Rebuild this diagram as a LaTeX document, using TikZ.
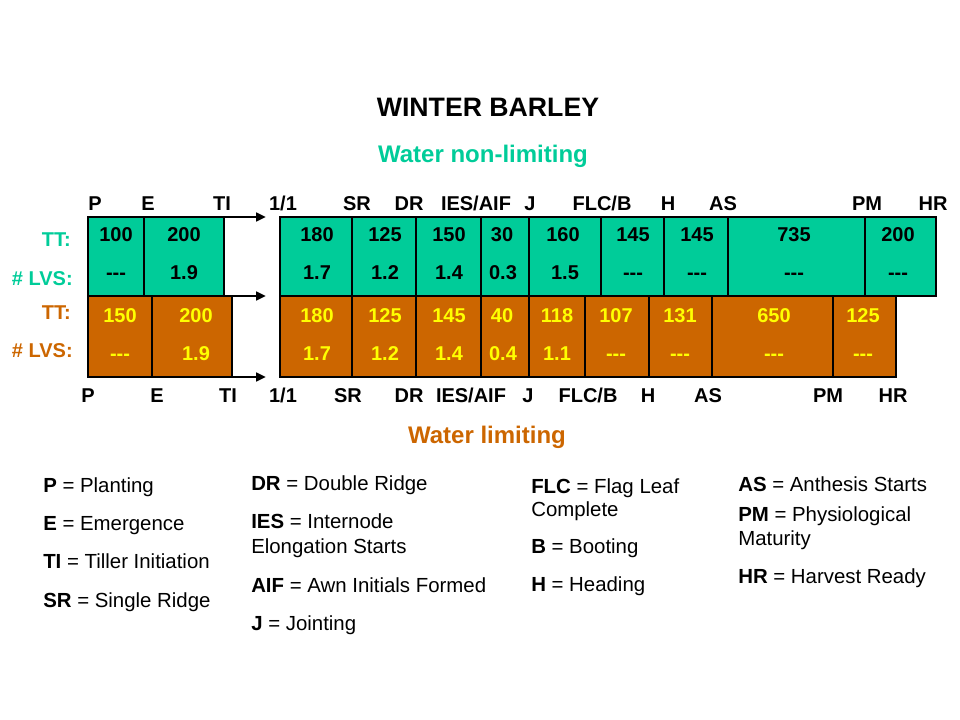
\documentclass[tikz,border=0pt]{standalone}
\usepackage{fontspec}
\setmainfont{Liberation Sans}
\usetikzlibrary{arrows.meta}
\definecolor{gfill}{RGB}{0,204,153}
\definecolor{ofill}{RGB}{204,102,0}
\definecolor{ytext}{RGB}{255,255,0}
\newcommand{\tridash}{-{}-{}-}
\begin{document}
\begin{tikzpicture}[x=0.75pt,y=-0.75pt,
  txt/.style={inner sep=0pt, anchor=base},
  num/.style={txt, font=\fontsize{15}{18}\selectfont\bfseries},
  gnum/.style={num, text=black},
  onum/.style={num, text=ytext},
  stage/.style={txt, font=\fontsize{15}{18}\selectfont\bfseries},
  rowlab/.style={txt, anchor=base east, font=\fontsize{15}{18}\selectfont\bfseries},
  leg/.style={txt, anchor=base west, font=\fontsize{15.3}{18}\selectfont},
  outer/.style={line width=1.9pt},
  divider/.style={line width=0.8pt},
  arr/.style={line width=2pt, -{Triangle[length=7.5pt,width=6.5pt]}}
]
\useasboundingbox (0,0) rectangle (960,720);

% titles
\node[txt, font=\fontsize{20}{24}\selectfont\bfseries] (title) at (488,117) {WINTER BARLEY};
\node[txt, font=\fontsize{18}{22}\selectfont\bfseries, text=gfill] (wnl) at (483,163) {Water non-limiting};
\node[txt, font=\fontsize{18}{22}\selectfont\bfseries, text=ofill] (wl) at (487,443) {Water limiting};

% block corner coordinates
\coordinate (gAnw) at (88,217);  \coordinate (gAse) at (224,296);
\coordinate (gBnw) at (280,217); \coordinate (gBse) at (936,296);
\coordinate (oAnw) at (88,296);  \coordinate (oAse) at (232,377);
\coordinate (oBnw) at (280,296); \coordinate (oBse) at (896,377);
\coordinate (gAne) at (224,217);
\coordinate (oAne) at (224,296);
\coordinate (oAsw) at (232,377);
\coordinate (t1) at (266,217);
\coordinate (t2) at (266,296);
\coordinate (t3) at (266,377);

% fills
\fill[gfill] (gAnw) rectangle (gAse);
\fill[gfill] (gBnw) rectangle (gBse);
\fill[ofill] (oAnw) rectangle (oAse);
\fill[ofill] (oBnw) rectangle (oBse);

% dividers
\foreach \x in {144} \draw[divider] (\x,217) -- (\x,296);
\foreach \x in {352,416,481,529,601,664,728,865} \draw[divider] (\x,217) -- (\x,296);
\foreach \x in {152} \draw[divider] (\x,296) -- (\x,377);
\foreach \x in {352,416,481,529,585,649,712,833} \draw[divider] (\x,296) -- (\x,377);
\draw[line width=1pt] (224,217) -- (224,296);
\draw[line width=1pt] (232,296) -- (232,377);

% outlines
\draw[outer] (88,296) -- (88,217) -- (224,217);
\draw[outer] (gBnw) rectangle (gBse);
\draw[outer] (88,296) -- (88,377) -- (232,377);
\draw[outer] (88,296) -- (232,296);
\draw[outer] (oBnw) rectangle (oBse);

% arrows
\draw[arr] (gAne) -- (t1);
\draw[arr] (oAne) -- (t2);
\draw[arr] (oAsw) -- (t3);

% row labels
\node[rowlab, text=gfill] (gtt) at (71,247) {TT:};
\node[rowlab, text=gfill] (glv) at (73,286) {\# LVS:};
\node[rowlab, text=ofill] (ott) at (71,320) {TT:};
\node[rowlab, text=ofill] (olv) at (73,357) {\# LVS:};

% green values
\node[gnum] (g1t) at (116,242) {100};   \node[gnum] (g1l) at (116,280) {\tridash};
\node[gnum] (g2t) at (184,242) {200};   \node[gnum] (g2l) at (184,280) {1.9};
\node[gnum] (g3t) at (317,242) {180};   \node[gnum] (g3l) at (317,280) {1.7};
\node[gnum] (g4t) at (385,242) {125};   \node[gnum] (g4l) at (385,280) {1.2};
\node[gnum] (g5t) at (449,242) {150};   \node[gnum] (g5l) at (449,280) {1.4};
\node[gnum] (g6t) at (502,242) {30};    \node[gnum] (g6l) at (503,280) {0.3};
\node[gnum] (g7t) at (563,242) {160};   \node[gnum] (g7l) at (565,280) {1.5};
\node[gnum] (g8t) at (633,242) {145};   \node[gnum] (g8l) at (633,280) {\tridash};
\node[gnum] (g9t) at (697,242) {145};   \node[gnum] (g9l) at (697,280) {\tridash};
\node[gnum] (g10t) at (794,242) {735};  \node[gnum] (g10l) at (794,280) {\tridash};
\node[gnum] (g11t) at (898,242) {200};  \node[gnum] (g11l) at (898,280) {\tridash};

% orange values
\node[onum] (o1t) at (120,322) {150};   \node[onum] (o1l) at (120,360) {\tridash};
\node[onum] (o2t) at (196,322) {200};   \node[onum] (o2l) at (196,360) {1.9};
\node[onum] (o3t) at (317,322) {180};   \node[onum] (o3l) at (317,360) {1.7};
\node[onum] (o4t) at (385,322) {125};   \node[onum] (o4l) at (385,360) {1.2};
\node[onum] (o5t) at (449,322) {145};   \node[onum] (o5l) at (449,360) {1.4};
\node[onum] (o6t) at (502,322) {40};    \node[onum] (o6l) at (503,360) {0.4};
\node[onum] (o7t) at (557,322) {118};   \node[onum] (o7l) at (557,360) {1.1};
\node[onum] (o8t) at (616,322) {107};   \node[onum] (o8l) at (616,360) {\tridash};
\node[onum] (o9t) at (680,322) {131};   \node[onum] (o9l) at (680,360) {\tridash};
\node[onum] (o10t) at (774,322) {650};  \node[onum] (o10l) at (774,360) {\tridash};
\node[onum] (o11t) at (863,322) {125};  \node[onum] (o11l) at (863,360) {\tridash};

% top stage labels
\node[stage] (sP) at (95,211) {P};
\node[stage] (sE) at (148,211) {E};
\node[stage] (sTI) at (222,211) {TI};
\node[stage] (s11) at (283,211) {1/1};
\node[stage] (sSR) at (357,211) {SR};
\node[stage] (sDR) at (409,211) {DR};
\node[stage] (sIES) at (476,211) {IES/AIF};
\node[stage] (sJ) at (530,211) {J};
\node[stage] (sFLC) at (602,211) {FLC/B};
\node[stage] (sH) at (668,211) {H};
\node[stage] (sAS) at (723,211) {AS};
\node[stage] (sPM) at (867,211) {PM};
\node[stage] (sHR) at (933,211) {HR};

% bottom stage labels
\node[stage] (bP) at (88,402) {P};
\node[stage] (bE) at (157,402) {E};
\node[stage] (bTI) at (228,402) {TI};
\node[stage] (b11) at (283,402) {1/1};
\node[stage] (bSR) at (348,402) {SR};
\node[stage] (bDR) at (409,402) {DR};
\node[stage] (bIES) at (471,402) {IES/AIF};
\node[stage] (bJ) at (528,402) {J};
\node[stage] (bFLC) at (588,402) {FLC/B};
\node[stage] (bH) at (648,402) {H};
\node[stage] (bAS) at (708,402) {AS};
\node[stage] (bPM) at (828,402) {PM};
\node[stage] (bHR) at (893,402) {HR};

% legend column 1
\node[leg] (lP) at (43,492) {\textbf{P} = Planting};
\node[leg] (lE) at (43,530) {\textbf{E} = Emergence};
\node[leg] (lTI) at (43,568) {\textbf{TI} = Tiller Initiation};
\node[leg] (lSR) at (43,607) {\textbf{SR} = Single Ridge};
% legend column 2
\node[leg] (lDR) at (251,490) {\textbf{DR} = Double Ridge};
\node[leg] (lIES) at (251,528) {\textbf{IES} = Internode};
\node[leg] (lIES2) at (251,553) {Elongation Starts};
\node[leg] (lAIF) at (251,592) {\textbf{AIF} = Awn Initials Formed};
\node[leg] (lJ) at (251,630) {\textbf{J} = Jointing};
% legend column 3
\node[leg] (lFLC) at (531,493) {\textbf{FLC} = Flag Leaf};
\node[leg] (lFLC2) at (531,516) {Complete};
\node[leg] (lB) at (531,553) {\textbf{B} = Booting};
\node[leg] (lH) at (531,591) {\textbf{H} = Heading};
% legend column 4
\node[leg] (lAS) at (738,491) {\textbf{AS} = Anthesis Starts};
\node[leg] (lPM) at (738,521) {\textbf{PM} = Physiological};
\node[leg] (lPM2) at (738,545) {Maturity};
\node[leg] (lHR) at (738,583) {\textbf{HR} = Harvest Ready};
\end{tikzpicture}
\end{document}
